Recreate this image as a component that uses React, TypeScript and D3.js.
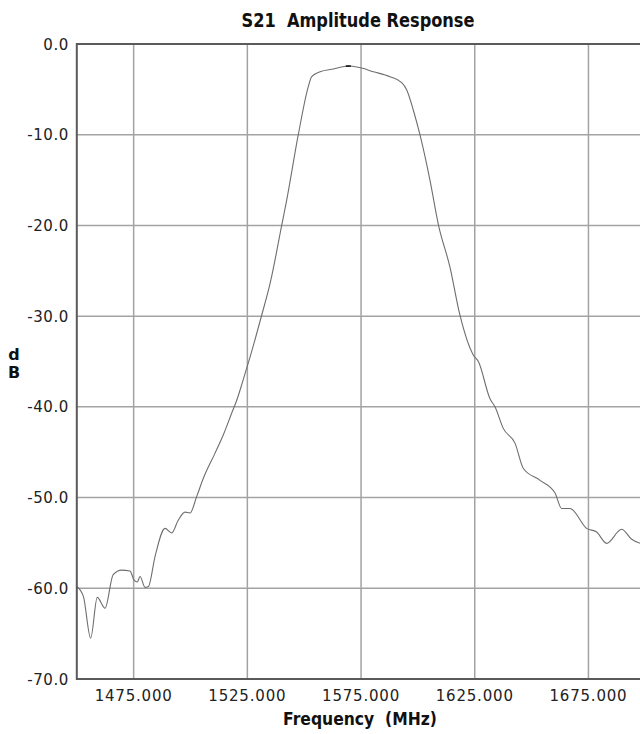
import * as d3 from "d3";
import { useEffect, useRef } from "react";

// S21 amplitude response
const freqMHz = [
  1450, 1452.9, 1456.1, 1459.0, 1462.4, 1466.0, 1469.7, 1473.4, 1475.2, 1476.6, 1477.8, 1480.0, 1481.5,
  1484.4, 1488.8, 1491.7, 1494.6, 1497.6, 1499.8, 1502.7, 1505.6, 1510.8, 1514.4, 1518.1, 1520.3, 1523.2,
  1526.2, 1531.3, 1535.0, 1540.1, 1542.3, 1547.4, 1551.8, 1553.3, 1557.0, 1562.8, 1569.4, 1573.8, 1580.4,
  1587.7, 1592.9, 1595.1, 1598.0, 1600.9, 1605.3, 1609.0, 1614.1, 1618.5, 1624.4, 1626.6, 1631.7, 1633.9,
  1637.6, 1642.7, 1646.4, 1653.7, 1660.3, 1663.2, 1666.9, 1674.2, 1678.6, 1683.0, 1689.6, 1694.0, 1698.5,
];
const s21dB = [
  -59.8, -60.9, -65.5, -61.0, -62.2, -58.5, -58.0, -58.1, -59.1, -59.3, -58.7, -59.9, -59.8,
  -56.5, -53.4, -53.9, -52.5, -51.6, -51.7, -49.9, -47.9, -45.1, -43.1, -40.7, -39.3, -37.0,
  -34.5, -29.9, -26.4, -20.0, -17.2, -10.0, -4.7, -3.6, -3.05, -2.76, -2.43, -2.57, -3.05,
  -3.6, -4.26, -5.07, -7.3, -10.0, -15.0, -19.9, -24.6, -29.9, -34.3, -35.0, -39.1, -40.0,
  -42.4, -44.0, -46.8, -48.1, -49.5, -51.2, -51.2, -53.4, -53.8, -55.05, -53.5, -54.6, -55.1,
];
const xTicks = [1475, 1525, 1575, 1625, 1675];
const yTicks = [0, -10, -20, -30, -40, -50, -60, -70];

const W = 640;
const H = 734;

export default function App() {
  const ref = useRef<SVGSVGElement | null>(null);

  useEffect(() => {
    if (!ref.current) return;
    document.body.style.margin = "0";

    const left = 76.8;
    const top = 44;
    const bottom = 679;

    const x = d3.scaleLinear().domain([1450, 1700]).range([left, 645.3]);
    const y = d3.scaleLinear().domain([-70, 0]).range([bottom, top]);

    const svg = d3.select(ref.current);
    svg.selectAll("*").remove();

    svg.append("rect").attr("width", W).attr("height", H).attr("fill", "#fff");

    svg
      .append("clipPath")
      .attr("id", "plot")
      .append("rect")
      .attr("x", left)
      .attr("y", top)
      .attr("width", W - left)
      .attr("height", bottom - top);

    const grid = svg.append("g").attr("stroke", "#a3a3a3").attr("stroke-width", 1.5);
    grid
      .selectAll("line.v")
      .data(xTicks)
      .join("line")
      .attr("class", "v")
      .attr("x1", (d) => x(d))
      .attr("x2", (d) => x(d))
      .attr("y1", top)
      .attr("y2", bottom);
    grid
      .selectAll("line.h")
      .data(yTicks.slice(1, -1))
      .join("line")
      .attr("class", "h")
      .attr("x1", left)
      .attr("x2", W)
      .attr("y1", (d) => y(d))
      .attr("y2", (d) => y(d));

    const pts = freqMHz.map((f, i) => ({ f, v: s21dB[i] }));
    const line = d3
      .line<(typeof pts)[0]>()
      .x((d) => x(d.f))
      .y((d) => y(d.v))
      .curve(d3.curveMonotoneX);

    svg
      .append("path")
      .datum(pts)
      .attr("clip-path", "url(#plot)")
      .attr("fill", "none")
      .attr("stroke", "#6e6e6e")
      .attr("stroke-width", 1.1)
      .attr("d", line);

    // peak marker
    const peak = pts.reduce((a, b) => (b.v > a.v ? b : a));
    svg
      .append("line")
      .attr("x1", x(peak.f) - 2.5)
      .attr("x2", x(peak.f) + 2.5)
      .attr("y1", y(peak.v))
      .attr("y2", y(peak.v))
      .attr("stroke", "#111")
      .attr("stroke-width", 1.6);

    // frame
    const frame = svg.append("g").attr("stroke", "#5a5a5a").attr("stroke-width", 2).attr("fill", "none");
    frame.append("line").attr("x1", left).attr("x2", W).attr("y1", top).attr("y2", top);
    frame.append("line").attr("x1", left).attr("x2", left).attr("y1", top - 1).attr("y2", bottom + 1);
    frame.append("line").attr("x1", left).attr("x2", W).attr("y1", bottom).attr("y2", bottom);

    const font = "'DejaVu Sans', Verdana, sans-serif";
    const fmt = (spec: string) => (v: number) => d3.format(spec)(v).replace("\u2212", "-");

    svg
      .append("g")
      .selectAll("text")
      .data(yTicks)
      .join("text")
      .attr("x", 69)
      .attr("y", (d) => y(d) + 5.5)
      .attr("text-anchor", "end")
      .attr("font-family", font)
      .attr("font-size", 15)
      .attr("letter-spacing", 0.6)
      .attr("fill", "#222")
      .text((d) => fmt(".1f")(d));

    svg
      .append("g")
      .selectAll("text")
      .data(xTicks)
      .join("text")
      .attr("x", (d) => x(d))
      .attr("y", 701)
      .attr("text-anchor", "middle")
      .attr("font-family", font)
      .attr("font-size", 15)
      .attr("letter-spacing", 0.8)
      .attr("fill", "#222")
      .text((d) => fmt(".3f")(d));

    svg
      .append("text")
      .attr("x", 241.5)
      .attr("y", 26.5)
      .attr("font-family", font)
      .attr("font-weight", "bold")
      .attr("font-size", 19)
      .attr("textLength", 233)
      .attr("lengthAdjust", "spacingAndGlyphs")
      .attr("fill", "#111")
      .style("white-space", "pre")
      .text("S21  Amplitude Response");

    svg
      .append("text")
      .attr("x", 283)
      .attr("y", 724.5)
      .attr("font-family", font)
      .attr("font-weight", "bold")
      .attr("font-size", 17)
      .attr("textLength", 154)
      .attr("lengthAdjust", "spacingAndGlyphs")
      .attr("fill", "#111")
      .style("white-space", "pre")
      .text("Frequency  (MHz)");

    const yLabel = svg
      .append("text")
      .attr("font-family", font)
      .attr("font-weight", "bold")
      .attr("font-size", 16)
      .attr("fill", "#111")
      .attr("text-anchor", "middle");
    yLabel.append("tspan").attr("x", 14).attr("y", 360).text("d");
    yLabel.append("tspan").attr("x", 14).attr("y", 378).text("B");
  }, []);

  return <svg ref={ref} width={W} height={H} style={{ display: "block" }} role="img" aria-label="S21 Amplitude Response" />;
}
